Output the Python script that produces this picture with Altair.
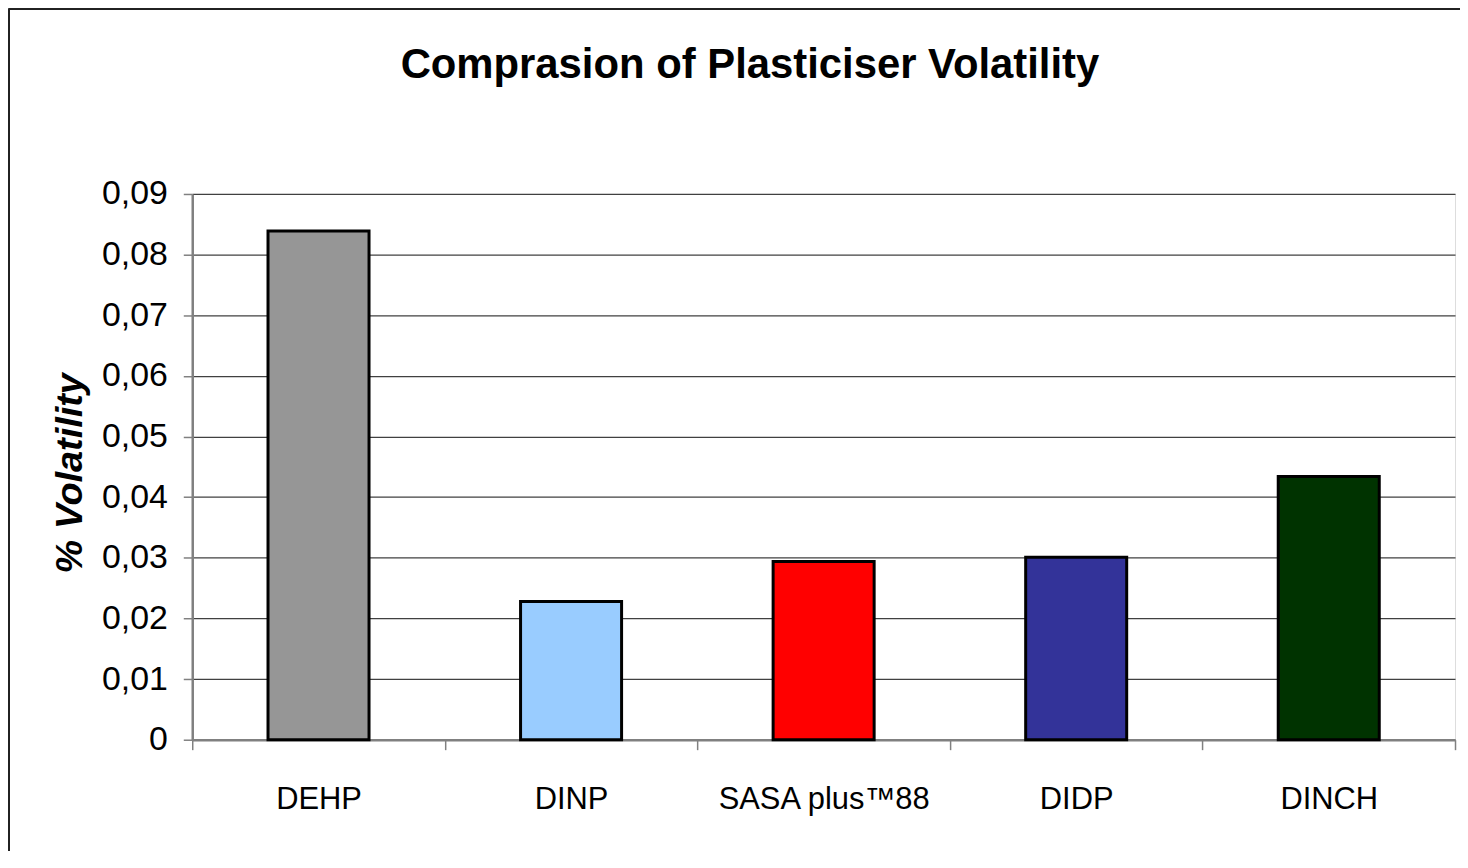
import altair as alt
import pandas as pd

categories = ["DEHP", "DINP", "SASA plus\u212288", "DIDP", "DINCH"]
values = [0.0839, 0.0228, 0.0294, 0.0301, 0.0434]
colors = ["#969696", "#99CCFF", "#FF0000", "#333399", "#003300"]
y_ticks = [0, 0.01, 0.02, 0.03, 0.04, 0.05, 0.06, 0.07, 0.08, 0.09]

df = pd.DataFrame({"name": categories, "value": values})

FONT = "'Liberation Sans', Arial, sans-serif"

W, H = 1268, 548

bars = alt.Chart(df).mark_bar(
    stroke="#000000", strokeWidth=3, width=alt.RelativeBandSize(0.4)
).encode(
    x=alt.X(
        "name:N",
        sort=categories,
        scale=alt.Scale(paddingInner=0, paddingOuter=0),
        axis=alt.Axis(
            title=None,
            labelAngle=0,
            labelFont=FONT,
            labelFontSize=31,
            labelColor="#000000",
            labelPadding=35,
            labelLimit=0,
            tickBand="extent",
            tickSize=10,
            tickColor="#808080",
            tickWidth=1.5,
            domainColor="#808080",
            domainWidth=2.5,
            grid=False,
        ),
    ),
    y=alt.Y(
        "value:Q",
        scale=alt.Scale(domain=[0, 0.09], nice=False),
        axis=alt.Axis(
            title="% Volatility",
            values=y_ticks,
            labelExpr="datum.value == 0 ? '0' : replace(format(datum.value, '.2f'), '.', ',')",
            labelFont=FONT,
            labelFontSize=34,
            labelColor="#000000",
            labelPadding=16,
            tickSize=9,
            tickColor="#808080",
            tickWidth=1.5,
            domainColor="#808080",
            domainWidth=2.5,
            grid=True,
            gridColor="#404040",
            gridWidth=1.2,
            titleFont=FONT,
            titleFontSize=38,
            titleFontWeight="bold",
            titleFontStyle="italic",
            titleColor="#000000",
            titleAngle=270,
            titleX=-111,
            titleY=H / 2 + 6,
            titleBaseline="alphabetic",
            titleAlign="center",
        ),
    ),
    color=alt.Color(
        "name:N",
        scale=alt.Scale(domain=categories, range=colors),
        legend=None,
    ),
)

frame_left = alt.Chart(df).mark_rule(color="#222222", strokeWidth=2).encode(
    x=alt.value(-184), y=alt.value(-186), y2=alt.value(H + 130)
)
frame_top = alt.Chart(df).mark_rule(color="#222222", strokeWidth=2).encode(
    x=alt.value(-184), x2=alt.value(W + 20), y=alt.value(-186)
)

chart = alt.layer(bars, frame_left, frame_top).properties(
    width=W,
    height=H,
    title=alt.TitleParams(
        "Comprasion of Plasticiser Volatility",
        font=FONT,
        fontSize=42,
        fontWeight="bold",
        color="#000000",
        anchor="middle",
        frame="group",
        dx=-74,
        offset=-113,
        baseline="alphabetic",
    ),
    padding={"left": 185, "top": 185, "right": 5, "bottom": 110},
    autosize=alt.AutoSizeParams(type="none"),
).configure_view(
    stroke="#808080", strokeWidth=2.5
).configure(background="#FFFFFF")

chart.save("out.html", embed_options={"renderer": "svg", "actions": False})
